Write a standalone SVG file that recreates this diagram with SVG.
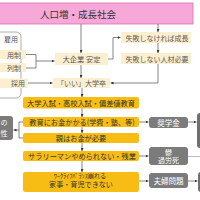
<svg xmlns="http://www.w3.org/2000/svg" width="200" height="200" viewBox="0 0 200 200">
<style>
text{font-family:"Noto Sans CJK JP","Noto Sans",sans-serif;text-anchor:middle;dominant-baseline:central}
.cream{fill:#fcefd0}
.ct{fill:#5a5a5a;font-size:7px}
.orange{fill:#f8bd14}
.ot{fill:#333;font-size:7.2px}
.gray{fill:#7b7b7b}
.gt{fill:#fff;font-size:7.5px}
.ln{fill:none;stroke:#666;stroke-width:0.8}
</style>
<defs>
<marker id="a" markerUnits="userSpaceOnUse" markerWidth="3" markerHeight="3" refX="3" refY="1.5" orient="auto"><path d="M0,0L3,1.5L0,3z" fill="#333"/></marker>
</defs>
<rect width="200" height="200" fill="#fff"/>
<g id="top">
<rect x="-5" y="3" width="198" height="21" fill="#f6a9d8" stroke="#e06bb6" stroke-width="0.8"/>
<text x="78" y="14" style="font-size:9.5px;fill:#333">人口増・成長社会</text>
</g>
<g id="koyou">
<rect x="-10" y="32" width="31" height="66" rx="5" fill="#fff" stroke="#999" stroke-width="0.8"/>
<text x="18" y="38.5" class="ct" style="text-anchor:end">雇用</text>
</g>
<g id="l1"><rect x="-5" y="50" width="31" height="9" class="cream"/><text x="21" y="54.5" class="ct" style="text-anchor:end">用制</text></g>
<g id="l2"><rect x="-5" y="63" width="31" height="9" class="cream"/><text x="21" y="67.5" class="ct" style="text-anchor:end">列制</text></g>
<g id="l3"><rect x="-5" y="78.5" width="33" height="9.5" class="cream"/><text x="25" y="83.2" class="ct" style="text-anchor:end">採用</text></g>
<g id="daikigyou"><rect x="55" y="53" width="53" height="12" class="cream"/><text x="81.5" y="59" class="ct" style="font-size:7.3px">大企業 安定</text></g>
<g id="iidaigaku"><rect x="53" y="78" width="57" height="10" class="cream"/><text x="81.5" y="83" class="ct">「いい」大学卒</text></g>
<g id="shippai1"><rect x="121" y="32" width="70" height="11" class="cream"/><text x="157" y="37.5" class="ct">失敗しなければ成長</text></g>
<g id="shippai2"><rect x="121" y="53" width="70" height="11" class="cream"/><text x="157" y="58.5" class="ct">失敗しない人材必要</text></g>
<g id="o1"><rect x="23" y="97" width="116" height="11.5" rx="2" class="orange"/><text x="81" y="102.8" class="ot">大学入試・高校入試・偏差値教育</text></g>
<g id="o2"><rect x="23" y="117" width="116" height="10" rx="2" class="orange"/><text x="82" y="122" class="ot">教育にお金かかる(学費・塾、等)</text></g>
<g id="o3"><rect x="23" y="133" width="116" height="10" rx="2" class="orange"/><text x="81" y="138" class="ot">親はお金が必要</text></g>
<g id="o4"><rect x="23" y="151" width="116" height="10" rx="2" class="orange"/><text x="82" y="156" class="ot">サラリーマンやめられない・残業</text></g>
<g id="o5"><rect x="23" y="172" width="116" height="20" rx="2" class="orange"/><text x="80" y="175.8" class="ot" style="font-size:6.2px">ﾜｰｸﾗｲﾌﾊﾞﾗﾝｽ崩れる</text><text x="81" y="184" class="ot" style="font-size:7.1px">家事・育児できない</text></g>
<g id="gl"><rect x="-5" y="116" width="18" height="24" rx="3" class="gray"/><text x="4" y="122" class="gt" style="font-size:7px">の</text><text x="4" y="133" class="gt" style="font-size:7px">性</text></g>
<g id="g1"><rect x="149" y="117" width="39" height="11" rx="3" class="gray"/><text x="168.5" y="122.5" class="gt">奨学金</text></g>
<g id="g2"><rect x="149" y="147" width="39" height="18" rx="3" class="gray"/><text x="168.5" y="151.8" class="gt" style="font-size:7px">鬱</text><text x="168.5" y="160.3" class="gt" style="font-size:7px">過労死</text></g>
<g id="g3"><rect x="149" y="173" width="39" height="15" rx="3" class="gray"/><text x="168.5" y="180.5" class="gt">夫婦問題</text></g>
<g id="r1"><rect x="197" y="113" width="10" height="35" rx="3" fill="#707070"/></g>
<g id="r2"><rect x="198" y="172" width="10" height="20" rx="3" fill="#707070"/></g>
<g id="connectors">
<path class="ln" d="M81,24V53" marker-end="url(#a)"/>
<path class="ln" d="M158,24V32" marker-end="url(#a)"/>
<path class="ln" d="M26,54.5H36V68H26M36,61H54.5" marker-end="url(#a)"/>
<path class="ln" d="M28,83H52.5" marker-end="url(#a)"/>
<path class="ln" d="M81,65V78" marker-end="url(#a)"/>
<path class="ln" d="M108,59H113V37.5H120.5" marker-end="url(#a)"/>
<path class="ln" d="M158,43V53" marker-end="url(#a)"/>
<path class="ln" d="M158,64V83H110.5" marker-end="url(#a)"/>
<path class="ln" d="M82,88V97" marker-end="url(#a)"/>
<path class="ln" d="M82,108.5V117" marker-end="url(#a)"/>
<path class="ln" d="M82,127V133" marker-end="url(#a)"/>
<path class="ln" d="M82,143V151" marker-end="url(#a)"/>
<path class="ln" d="M82,161V172" marker-end="url(#a)"/>
<path class="ln" d="M23,122H19V138H23M19,130H13.5" marker-end="url(#a)"/>
<path class="ln" d="M139,122H148.5" marker-end="url(#a)"/>
<path class="ln" d="M139,156H148.5" marker-end="url(#a)"/>
<path class="ln" d="M139,181H148.5" marker-end="url(#a)"/>
<path class="ln" d="M188,122H196.5" marker-end="url(#a)"/>
<path d="M188,156.5H200" fill="none" stroke="#aaa" stroke-width="0.8"/>
<path class="ln" d="M188,181H197.5" marker-end="url(#a)"/>
</g>
</svg>
